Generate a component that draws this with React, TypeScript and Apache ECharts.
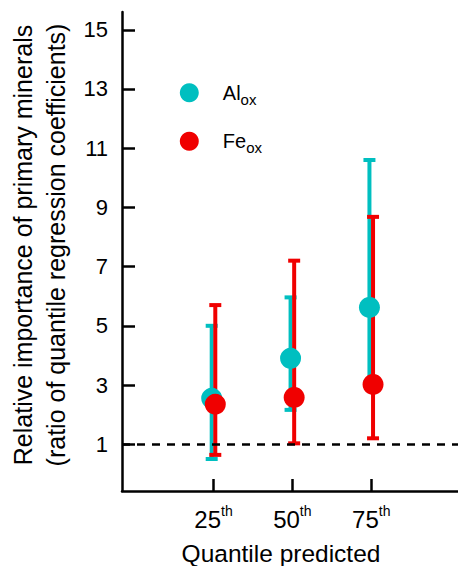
import React, { useEffect, useRef } from 'react';
import * as echarts from 'echarts';

// ---- data ----
const quantileLabels = ['25', '50', '75'];
const quantilePositions = [1, 2, 3];
const yTickValues = [1, 3, 5, 7, 9, 11, 13, 15];

const alMean = [2.55, 3.9, 5.62];
const alLow = [0.5, 2.16, 3.1];
const alHigh = [5.0, 5.96, 10.6];

const feMean = [2.35, 2.58, 3.02];
const feLow = [0.64, 1.03, 1.2];
const feHigh = [5.7, 7.2, 8.68];

const referenceLevel = 1;

const seriesNames = ['Alox', 'Feox'];
const legendLabels: Record<string, string> = { Alox: 'Al', Feox: 'Fe' };

// ---- styles ----
const FONT = '"Liberation Sans", Arial, Helvetica, sans-serif';
const CYAN = '#00BFC0';
const RED = '#F00000';

const makeErrorRender = (dx: number, color: string) => (params: any, api: any) => {
  const x = api.value(0);
  const lo = api.value(1);
  const hi = api.value(2);
  const pLo = api.coord([x, lo]);
  const pHi = api.coord([x, hi]);
  const cx = pLo[0] + dx;
  const half = 6;
  const style = { stroke: color, lineWidth: 4, fill: null };
  return {
    type: 'group',
    children: [
      { type: 'line', shape: { x1: cx, y1: pLo[1], x2: cx, y2: pHi[1] }, style },
      { type: 'line', shape: { x1: cx - half, y1: pHi[1], x2: cx + half, y2: pHi[1] }, style },
      { type: 'line', shape: { x1: cx - half, y1: pLo[1], x2: cx + half, y2: pLo[1] }, style },
    ],
  };
};

export default function App() {
  const ref = useRef<HTMLDivElement>(null);

  useEffect(() => {
    if (!ref.current) return;
    const chart = echarts.init(ref.current, null, { renderer: 'svg' });

    const alErr = quantilePositions.map((x, i) => [x, alLow[i], alHigh[i]]);
    const feErr = quantilePositions.map((x, i) => [x, feLow[i], feHigh[i]]);
    const alPts = quantilePositions.map((x, i) => [x, alMean[i]]);
    const fePts = quantilePositions.map((x, i) => [x, feMean[i]]);

    const option: any = {
      animation: false,
      backgroundColor: '#ffffff',
      textStyle: { fontFamily: FONT, color: '#000' },
      grid: { left: 122, right: 0, top: 12, bottom: 75, containLabel: false },
      legend: {
        data: seriesNames,
        orient: 'vertical',
        left: 179.8,
        top: 77.7,
        padding: 0,
        itemGap: 19.6,
        itemWidth: 19,
        itemHeight: 19,
        icon: 'circle',
        selectedMode: false,
        formatter: (name: string) => `{a|${legendLabels[name]}}{b|ox}`,
        textStyle: {
          fontFamily: FONT,
          color: '#000',
          rich: {
            a: { fontSize: 20, lineHeight: 28, padding: [0, 0, 0, 19], fontFamily: FONT, color: '#000' },
            b: { fontSize: 15, lineHeight: 14, padding: [14, 0, 0, 0], verticalAlign: 'bottom', fontFamily: FONT, color: '#000' },
          },
        },
      },
      xAxis: {
        type: 'value',
        min: -0.16,
        max: 4.1,
        splitLine: { show: false },
        axisLine: { show: true, onZero: false, lineStyle: { color: '#000', width: 2.5 } },
        axisTick: {
          show: true,
          inside: true,
          length: 12,
          customValues: quantilePositions,
          lineStyle: { color: '#000', width: 2.5 },
        },
        axisLabel: {
          show: true,
          customValues: quantilePositions,
          margin: 13,
          formatter: (v: number) => {
            const idx = quantilePositions.indexOf(Math.round(v));
            return `{a|${quantileLabels[idx]}}{b|th}`;
          },
          rich: {
            a: { fontSize: 24, lineHeight: 30, fontFamily: FONT, color: '#000' },
            b: { fontSize: 14, lineHeight: 14, padding: [0, 0, 16, 0], verticalAlign: 'top', fontFamily: FONT, color: '#000' },
          },
        },
      },
      yAxis: {
        type: 'value',
        min: -0.58,
        max: 15.6,
        splitLine: { show: false },
        axisLine: { show: true, onZero: false, lineStyle: { color: '#000', width: 2.5 } },
        axisTick: {
          show: true,
          inside: true,
          length: 13,
          customValues: yTickValues,
          lineStyle: { color: '#000', width: 2.5 },
        },
        axisLabel: {
          show: true,
          customValues: yTickValues,
          margin: 14,
          fontSize: 22,
          fontFamily: FONT,
          color: '#000',
        },
      },
      graphic: [
        {
          type: 'text',
          x: 39.6,
          y: 245,
          rotation: Math.PI / 2,
          style: {
            text: 'Relative importance of primary minerals\n(ratio of quantile regression coefficients)',
            align: 'center',
            verticalAlign: 'middle',
            fontSize: 25,
            lineHeight: 33,
            fontFamily: FONT,
            fill: '#000',
          },
        },
        {
          type: 'text',
          x: 281,
          y: 553,
          style: {
            text: 'Quantile predicted',
            align: 'center',
            verticalAlign: 'middle',
            fontSize: 24.5,
            fontFamily: FONT,
            fill: '#000',
          },
        },
      ],
      series: [
        {
          name: 'reference',
          type: 'line',
          data: [],
          silent: true,
          markLine: {
            silent: true,
            symbol: 'none',
            label: { show: false },
            lineStyle: { color: '#000', width: 2.5, type: [8, 7] },
            data: [{ yAxis: referenceLevel }],
          },
        },
        {
          name: 'Alox error',
          type: 'custom',
          renderItem: makeErrorRender(-1.8, CYAN),
          encode: { x: 0, y: [1, 2] },
          data: alErr,
          silent: true,
        },
        {
          name: 'Alox',
          type: 'scatter',
          symbol: 'circle',
          symbolSize: 21,
          symbolOffset: [-1.8, 0],
          itemStyle: { color: CYAN, opacity: 1 },
          data: alPts,
          silent: true,
        },
        {
          name: 'Feox error',
          type: 'custom',
          renderItem: makeErrorRender(1.8, RED),
          encode: { x: 0, y: [1, 2] },
          data: feErr,
          silent: true,
        },
        {
          name: 'Feox',
          type: 'scatter',
          symbol: 'circle',
          symbolSize: 21,
          symbolOffset: [1.8, 0],
          itemStyle: { color: RED, opacity: 1 },
          data: fePts,
          silent: true,
        },
      ],
    };

    chart.setOption(option);
    return () => chart.dispose();
  }, []);

  return (
    <div
      ref={ref}
      style={{ position: 'fixed', left: 0, top: 0, width: 458, height: 566, background: '#fff' }}
    />
  );
}
